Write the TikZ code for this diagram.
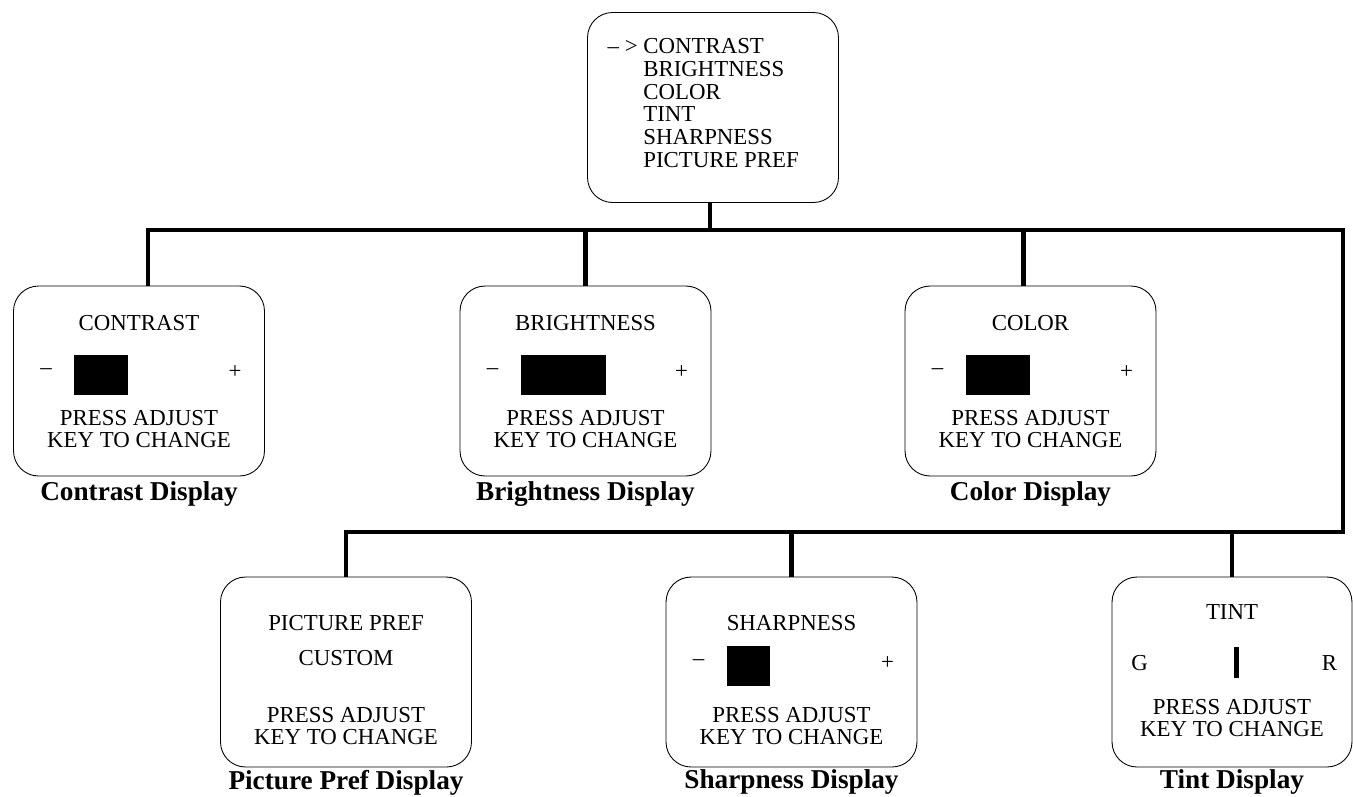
\documentclass[tikz,border=0pt]{standalone}
\usepackage{fontspec}
\setmainfont{Liberation Serif}
\usetikzlibrary{calc}

\tikzset{
  screen/.style={draw, line width=0.5pt, rounded corners=0.5cm, minimum width=5.02cm, minimum height=3.8cm},
  bus/.style={line width=2.3pt},
  txt/.style={inner sep=0pt, font=\fontsize{13}{12.5}\selectfont, align=center},
  caption/.style={inner sep=0pt, font=\fontsize{15.5}{18}\selectfont\bfseries},
}

\begin{document}
\begin{tikzpicture}[x=0.02cm, y=-0.02cm]
	\useasboundingbox (0,0) rectangle (1353,796);
	
	% Screens
	\node[screen] (menu) at (713,107.5) {};
	\node[screen] (contrast) at (139,381) {};
	\node[screen] (brightness) at (585.5,381) {};
	\node[screen] (color) at (1030.5,381) {};
	\node[screen] (picpref) at (346,672) {};
	\node[screen] (sharpness) at (791.5,672) {};
	\node[screen, minimum width=4.8cm] (tint) at (1232,672) {};
	
	% Menu list
	\node[txt, anchor=base east] (pointer) at (638,53.5) {– >};
	\foreach \entry [count=\i] in {CONTRAST, BRIGHTNESS, COLOR, TINT, SHARPNESS, PICTURE PREF}
		\node[txt, anchor=base west] (entry\i) at (643, {53.5+22.8*(\i-1)}) {\entry};
	
	% Slider screens
	\foreach \s/\t/\w/\ty/\hy in {contrast/CONTRAST/54/37/143, brightness/BRIGHTNESS/85/37/143, color/COLOR/64/37/143, sharpness/SHARPNESS/43/46/149} {
		\node[txt] (\s-title) at ($(\s.north)+(0,\ty)$) {\t};
		\node[txt] (\s-minus) at ($(\s.north west)+(33,86)$) {–};
		\node[txt] (\s-plus) at ($(\s.north west)+(222,86)$) {+};
		\fill ($(\s.north west)+(61,69)$) rectangle ++(\w,40); % level bar
		\node[txt] (\s-hint) at ($(\s.north)+(0,\hy)$) {PRESS ADJUST\\KEY TO CHANGE};
	}
	
	% Picture pref screen
	\node[txt] (picpref-title) at ($(picpref.north)+(0,46)$) {PICTURE PREF};
	\node[txt] (picpref-value) at ($(picpref.north)+(0,81)$) {CUSTOM};
	\node[txt] (picpref-hint) at ($(picpref.north)+(0,149)$) {PRESS ADJUST\\KEY TO CHANGE};
	
	% Tint screen
	\node[txt] (tint-title) at ($(tint.north)+(0,35)$) {TINT};
	\node[txt] (tint-g) at ($(tint.north west)+(28,86)$) {G};
	\node[txt] (tint-r) at ($(tint.north west)+(218,86)$) {R};
	\fill ($(tint.north west)+(122.5,70)$) rectangle ++(5,31); % tint marker
	\node[txt] (tint-hint) at ($(tint.north)+(0,141)$) {PRESS ADJUST\\KEY TO CHANGE};
	
	% Captions
	\foreach \s/\c/\d in {contrast/Contrast/18, brightness/Brightness/18, color/Color/18, picpref/Picture Pref/15, sharpness/Sharpness/15, tint/Tint/15}
		\node[caption] (\s-cap) at ($(\s.south)+(0,\d)$) {\c{} Display};
	
	% Bus lines
	\coordinate (ne) at (1343,230);
	\coordinate (se) at (1343,532);
	\draw[bus] ([xshift=0.18cm]contrast.north) |- (ne) -- (se) -| (picpref.north);
	\draw[bus] ([xshift=-0.06cm]menu.south) -- ([xshift=-0.06cm]menu.south |- ne);
	\draw[bus] (brightness.north) -- (brightness.north |- ne);
	\draw[bus] ([xshift=-0.14cm]color.north) -- ([xshift=-0.14cm]color.north |- ne);
	\foreach \s in {sharpness, tint}
		\draw[bus] (\s.north) -- (\s.north |- se);
\end{tikzpicture}
\end{document}
